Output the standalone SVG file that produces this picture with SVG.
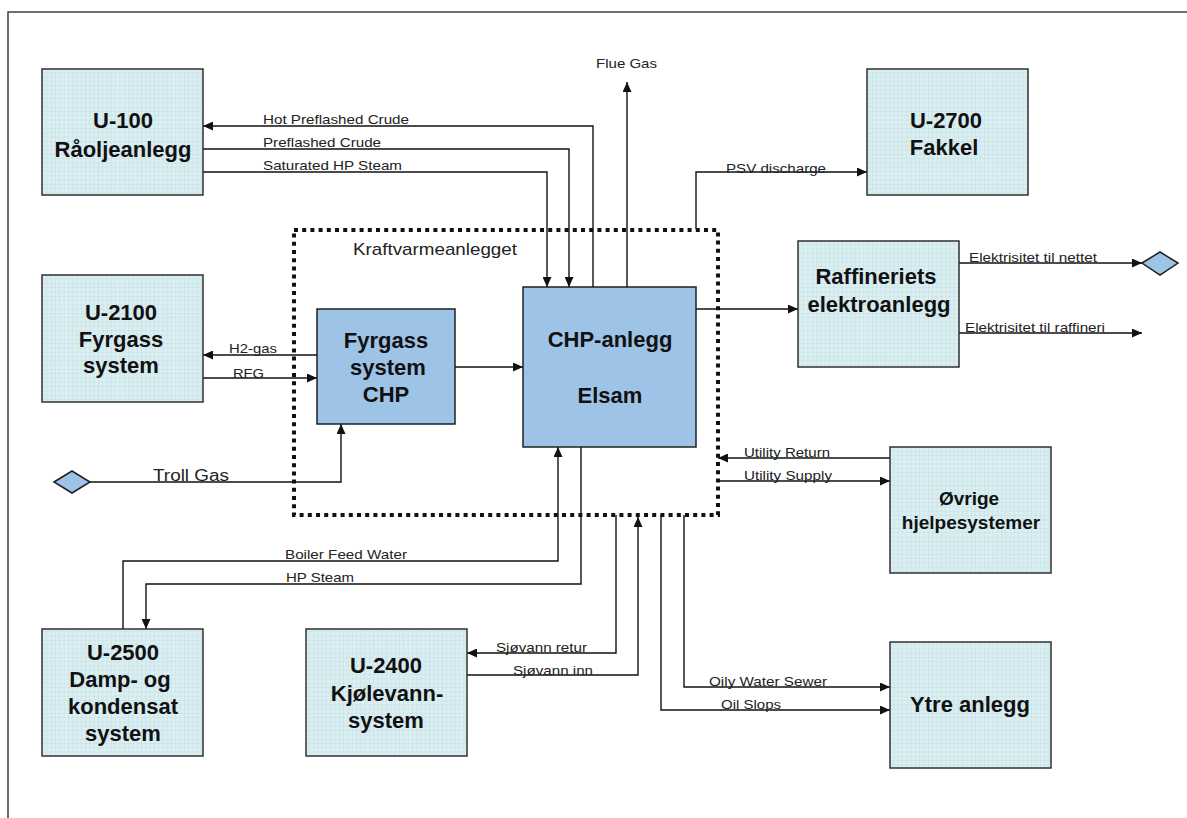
<svg xmlns="http://www.w3.org/2000/svg" width="1187" height="818" viewBox="0 0 1187 818">
<style>
.frame{stroke:#404040;stroke-width:1.5;fill:none}
.box{fill:url(#grid);stroke:#303030;stroke-width:1.5}
.blue{fill:#9dc3e6;stroke:#202020;stroke-width:1.5}
.dot{fill:none;stroke:#111;stroke-width:4;stroke-dasharray:4 4.2}
.c{fill:none;stroke:#111;stroke-width:1.4}
.ca{fill:none;stroke:#111;stroke-width:1.4;marker-end:url(#arr)}
.t{font-family:"Liberation Sans",Arial,sans-serif;font-weight:bold;font-size:22px;fill:#111;text-anchor:middle}
.l{font-family:"Liberation Sans",Arial,sans-serif;font-size:13px;fill:#222}
</style>
<defs>
<pattern id="grid" width="4.3" height="4.3" patternUnits="userSpaceOnUse">
<rect width="4.3" height="4.3" fill="#dbeef1"/>
<path d="M4.3,0 V4.3 M0,4.3 H4.3" stroke="#b3d6db" stroke-width="0.6" fill="none"/>
</pattern>
<marker id="arr" markerWidth="10" markerHeight="9" refX="10" refY="4.5" orient="auto" markerUnits="userSpaceOnUse">
<path d="M0,0 L10,4.5 L0,9 z" fill="#111"/>
</marker>
</defs>
<rect width="1187" height="818" fill="#fff"/>
<path class="frame" d="M8,818 V12 H1187"/>

<g id="kraftvarme">
<rect class="dot" x="294" y="230" width="424" height="285"/>
<text class="l" x="353" y="255" style="font-size:17px" textLength="164" lengthAdjust="spacingAndGlyphs">Kraftvarmeanlegget</text>
</g>

<g id="connectors">
<path class="ca" d="M593,287 V126 H203"/>
<path class="ca" d="M203,149 H569 V287"/>
<path class="ca" d="M203,172 H547 V287"/>
<path class="ca" d="M627,287 V82"/>
<path class="ca" d="M696,229 V172 H867"/>
<path class="ca" d="M696,309 H798"/>
<path class="ca" d="M959,263 H1142"/>
<path class="ca" d="M959,333 H1142"/>
<path class="ca" d="M890,458 H718"/>
<path class="ca" d="M718,481 H890"/>
<path class="ca" d="M317,355 H203"/>
<path class="ca" d="M203,378 H317"/>
<path class="ca" d="M89,482 H341 V424"/>
<path class="ca" d="M455,367 H523"/>
<path class="ca" d="M123,629 V561 H558 V447"/>
<path class="ca" d="M581,447 V584 H146 V629"/>
<path class="ca" d="M616,515 V653 H467"/>
<path class="ca" d="M467,675 H638 V517"/>
<path class="ca" d="M684,515 V687 H890"/>
<path class="ca" d="M661,515 V710 H890"/>
<text class="l" x="263" y="124" textLength="146" lengthAdjust="spacingAndGlyphs">Hot Preflashed Crude</text>
<text class="l" x="263" y="147" textLength="118" lengthAdjust="spacingAndGlyphs">Preflashed Crude</text>
<text class="l" x="263" y="170" textLength="139" lengthAdjust="spacingAndGlyphs">Saturated HP Steam</text>
<text class="l" x="596" y="68" textLength="61" lengthAdjust="spacingAndGlyphs">Flue Gas</text>
<text class="l" x="726" y="173" textLength="100" lengthAdjust="spacingAndGlyphs">PSV discharge</text>
<text class="l" x="229" y="353" textLength="48" lengthAdjust="spacingAndGlyphs">H2-gas</text>
<text class="l" x="233" y="378" textLength="31" lengthAdjust="spacingAndGlyphs">RFG</text>
<text class="l" x="153" y="481" style="font-size:16px" textLength="76" lengthAdjust="spacingAndGlyphs">Troll Gas</text>
<text class="l" x="969" y="262" textLength="128" lengthAdjust="spacingAndGlyphs">Elektrisitet til nettet</text>
<text class="l" x="965" y="332" textLength="140" lengthAdjust="spacingAndGlyphs">Elektrisitet til raffineri</text>
<text class="l" x="744" y="457" textLength="86" lengthAdjust="spacingAndGlyphs">Utility Return</text>
<text class="l" x="744" y="480" textLength="88" lengthAdjust="spacingAndGlyphs">Utility Supply</text>
<text class="l" x="285" y="559" textLength="122" lengthAdjust="spacingAndGlyphs">Boiler Feed Water</text>
<text class="l" x="286" y="582" textLength="68" lengthAdjust="spacingAndGlyphs">HP Steam</text>
<text class="l" x="496" y="652" textLength="91" lengthAdjust="spacingAndGlyphs">Sjøvann retur</text>
<text class="l" x="513" y="675" textLength="80" lengthAdjust="spacingAndGlyphs">Sjøvann inn</text>
<text class="l" x="709" y="686" textLength="118" lengthAdjust="spacingAndGlyphs">Oily Water Sewer</text>
<text class="l" x="721" y="709" textLength="60" lengthAdjust="spacingAndGlyphs">Oil Slops</text>
</g>

<g id="u100">
<rect class="box" x="42" y="69" width="161" height="126"/>
<text class="t" x="123" y="128">U-100</text>
<text class="t" x="123" y="157">Råoljeanlegg</text>
</g>
<g id="u2700">
<rect class="box" x="867" y="69" width="161" height="126"/>
<text class="t" x="946" y="128">U-2700</text>
<text class="t" x="944" y="155">Fakkel</text>
</g>
<g id="u2100">
<rect class="box" x="42" y="275" width="161" height="127"/>
<text class="t" x="121" y="320">U-2100</text>
<text class="t" x="121" y="347">Fyrgass</text>
<text class="t" x="121" y="373">system</text>
</g>
<g id="fyrgass-chp">
<rect class="blue" x="317" y="309" width="138" height="115"/>
<text class="t" x="386" y="348">Fyrgass</text>
<text class="t" x="388" y="375">system</text>
<text class="t" x="386" y="402">CHP</text>
</g>
<g id="chp">
<rect class="blue" x="523" y="287" width="173" height="160"/>
<text class="t" x="610" y="347">CHP-anlegg</text>
<text class="t" x="610" y="403">Elsam</text>
</g>
<g id="raff">
<rect class="box" x="798" y="241" width="161" height="126"/>
<text class="t" x="876" y="284">Raffineriets</text>
<text class="t" x="879" y="312">elektroanlegg</text>
</g>
<g id="nettet">
<path class="blue" d="M1142,263 L1160,252 L1178,263 L1160,275 z"/>
</g>
<g id="troll">
<path class="blue" d="M54,482 L72,471 L90,482 L72,493 z"/>
</g>
<g id="ovrige">
<rect class="box" x="890" y="447" width="161" height="126"/>
<text class="t" x="969" y="505" style="font-size:19px">Øvrige</text>
<text class="t" x="971" y="529" style="font-size:19px">hjelpesystemer</text>
</g>
<g id="u2500">
<rect class="box" x="42" y="629" width="161" height="127"/>
<text class="t" x="123" y="660">U-2500</text>
<text class="t" x="120" y="687">Damp- og</text>
<text class="t" x="123" y="714">kondensat</text>
<text class="t" x="123" y="741">system</text>
</g>
<g id="u2400">
<rect class="box" x="306" y="629" width="161" height="127"/>
<text class="t" x="386" y="673">U-2400</text>
<text class="t" x="387" y="701">Kjølevann-</text>
<text class="t" x="386" y="728">system</text>
</g>
<g id="ytre">
<rect class="box" x="890" y="642" width="161" height="126"/>
<text class="t" x="970" y="712">Ytre anlegg</text>
</g>
</svg>
